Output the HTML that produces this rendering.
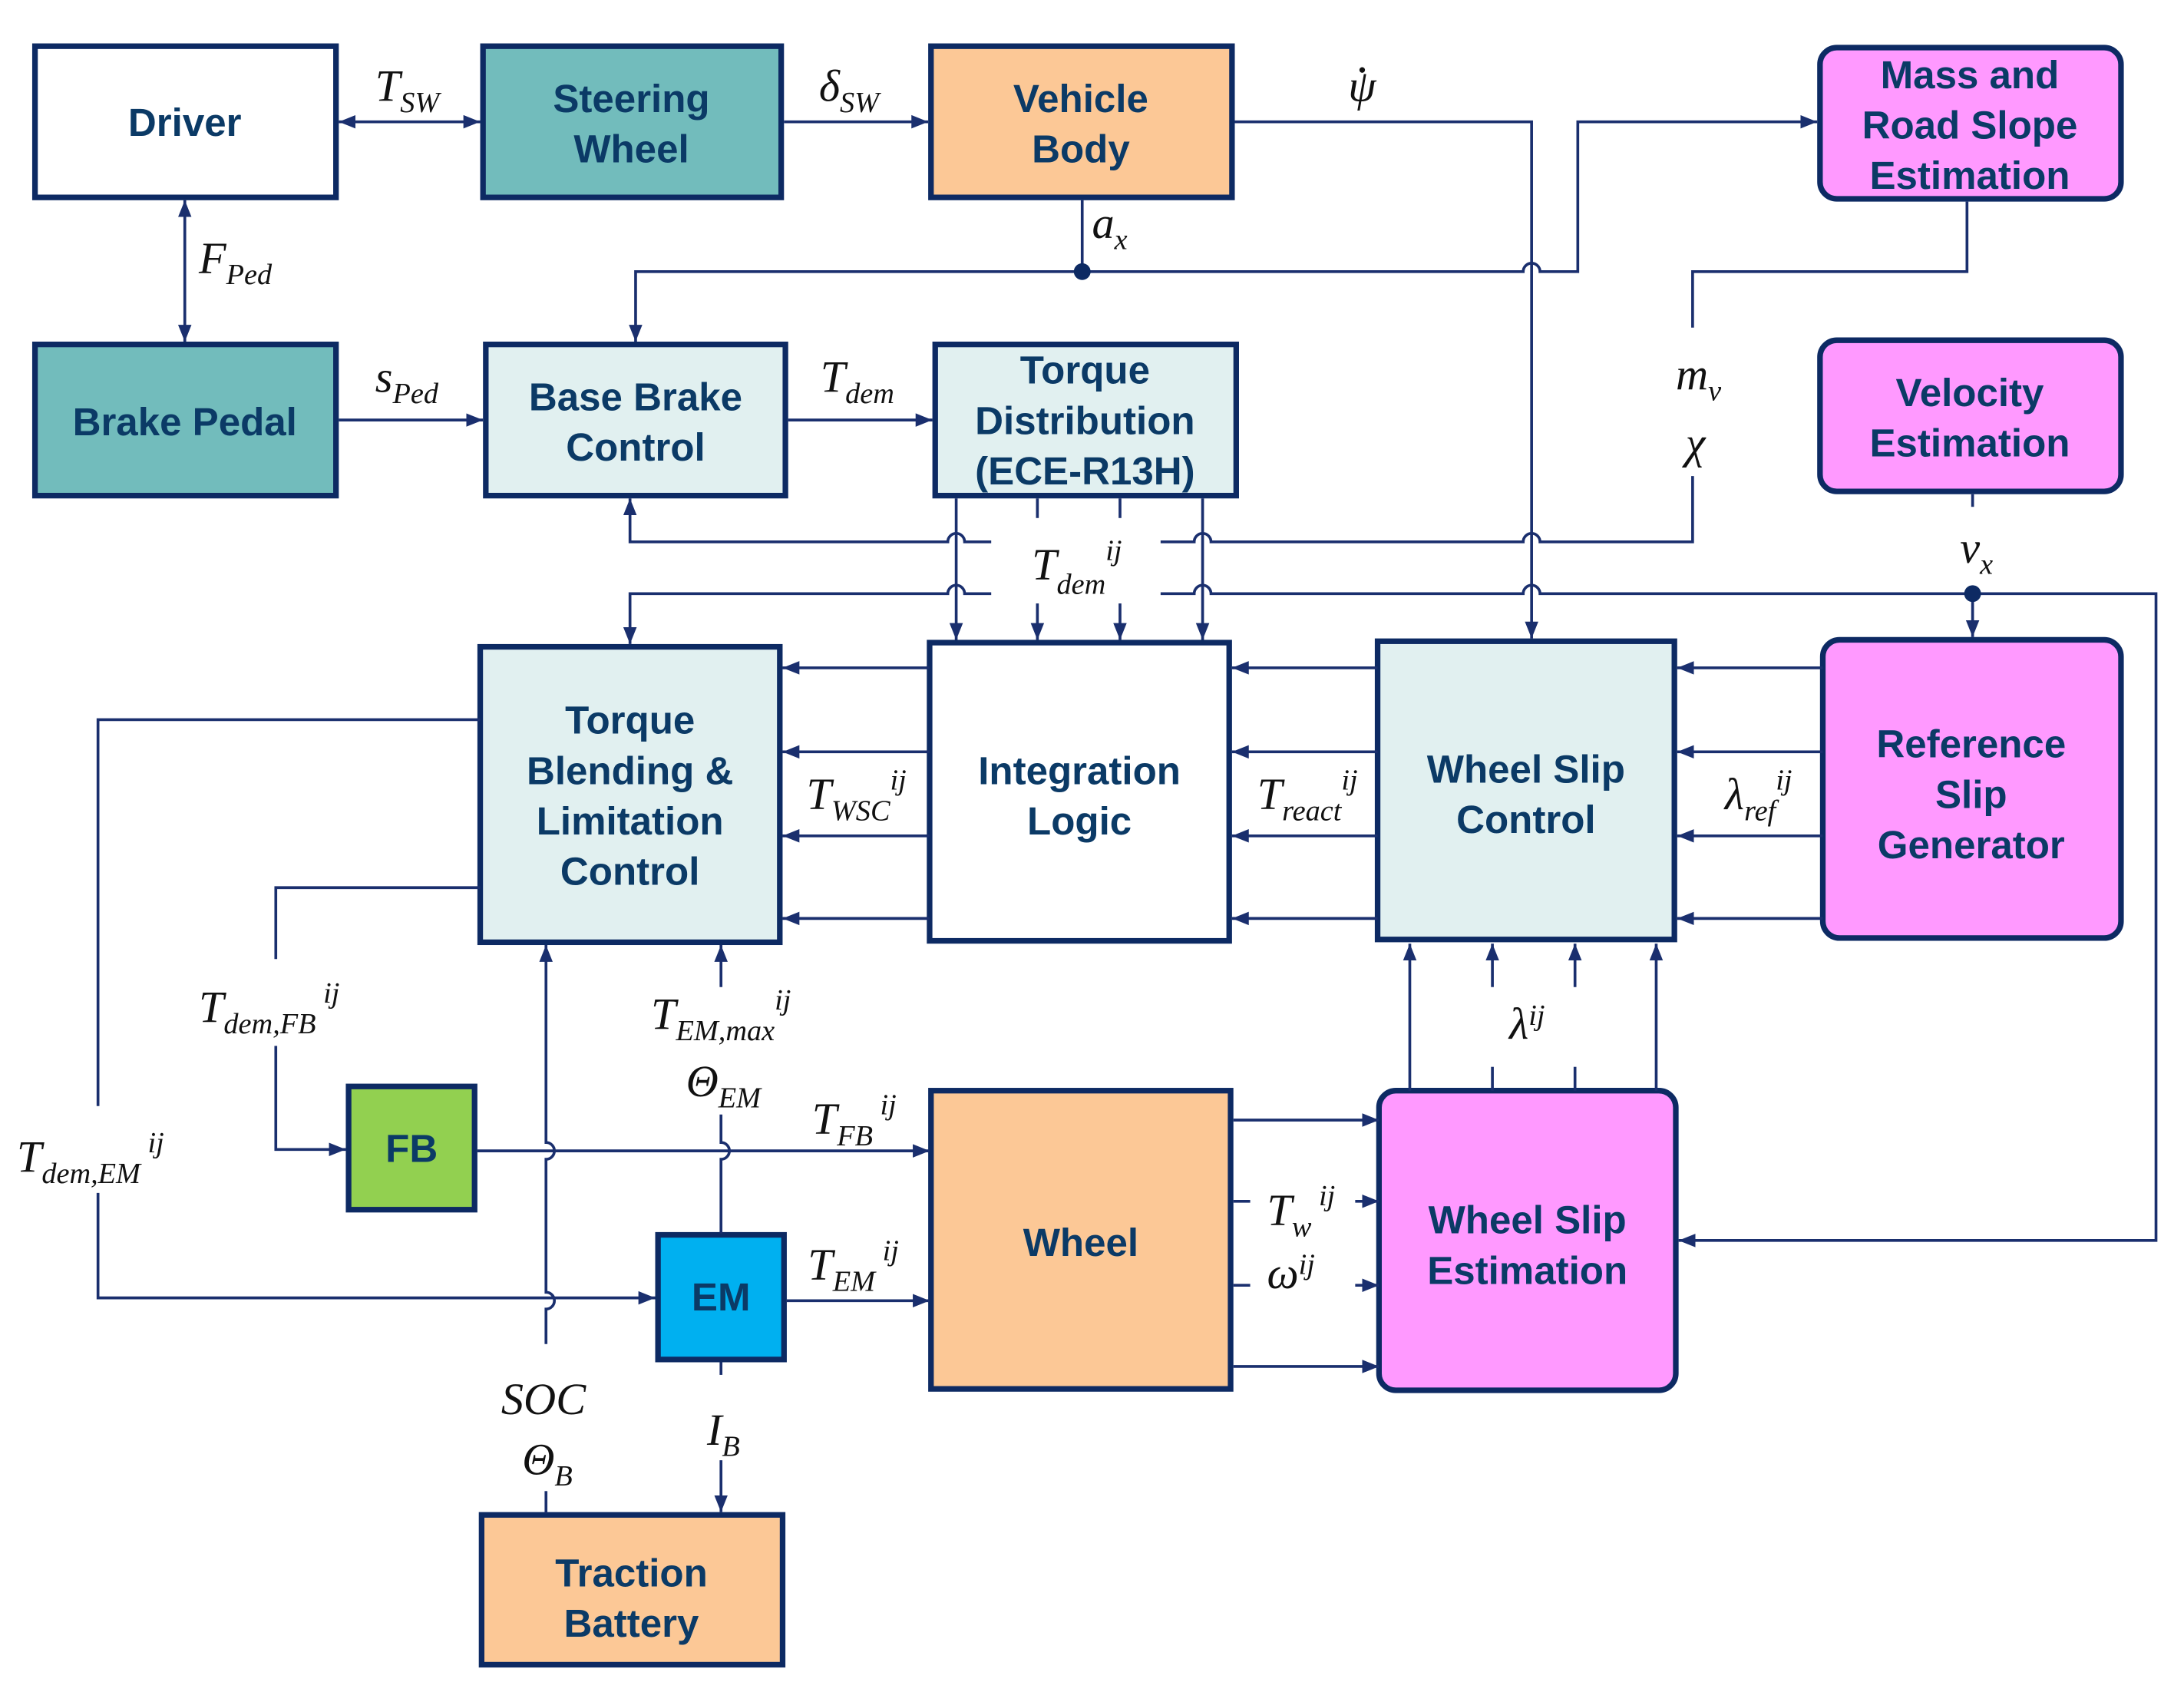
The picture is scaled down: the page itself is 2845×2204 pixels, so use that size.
<!DOCTYPE html>
<html><head><meta charset="utf-8"><style>
html,body{margin:0;padding:0;background:#fff}
svg{display:block}
.b{stroke:#0d2a63;stroke-width:4}
.bt{font-family:"Liberation Sans",sans-serif;font-weight:bold;font-size:28px;fill:#0b3a66;text-anchor:middle}
.l{fill:none;stroke:#1a2f6e;stroke-width:2}
.m{font-family:"Liberation Serif",serif;font-style:italic;font-size:32px;fill:#111}
.s{font-size:21px}
</style></head><body>
<svg width="2845" height="2204" viewBox="0 0 1560 1208.5" preserveAspectRatio="none" xmlns="http://www.w3.org/2000/svg">
<defs>
<marker id="a" viewBox="0 0 10 10" refX="10" refY="5" markerWidth="6" markerHeight="6" orient="auto-start-reverse"><path d="M0,1 L10,5 L0,9 z" fill="#1a2f6e"/></marker>
</defs>
<rect class="b" x="25" y="33" width="215" height="108" fill="#fff"/>
<rect class="b" x="345" y="33" width="213" height="108" fill="#72bcbc"/>
<rect class="b" x="665" y="33" width="215" height="108" fill="#fcc896"/>
<rect class="b" x="1300" y="34" width="215" height="108" rx="12" fill="#ff99ff"/>
<rect class="b" x="25" y="246" width="215" height="108" fill="#72bcbc"/>
<rect class="b" x="347" y="246" width="214" height="108" fill="#e1f0f0"/>
<rect class="b" x="668" y="246" width="215" height="108" fill="#e1f0f0"/>
<rect class="b" x="1300" y="243" width="215" height="108" rx="12" fill="#ff99ff"/>
<rect class="b" x="343" y="462" width="214" height="211" fill="#e1f0f0"/>
<rect class="b" x="664" y="459" width="214" height="213" fill="#fff"/>
<rect class="b" x="984" y="458" width="212" height="213" fill="#e1f0f0"/>
<rect class="b" x="1302" y="457" width="213" height="213" rx="12" fill="#ff99ff"/>
<rect class="b" x="249" y="776" width="90" height="88" fill="#92d050"/>
<rect class="b" x="470" y="882" width="90" height="89" fill="#00b0f0"/>
<rect class="b" x="665" y="779" width="214" height="213" fill="#fcc896"/>
<rect class="b" x="985" y="779" width="212" height="214" rx="12" fill="#ff99ff"/>
<rect class="b" x="344" y="1082" width="215" height="107" fill="#fcc896"/>
<text class="bt" x="132" y="97">Driver</text>
<text class="bt" x="451" y="80">Steering</text><text class="bt" x="451" y="116">Wheel</text>
<text class="bt" x="772" y="80">Vehicle</text><text class="bt" x="772" y="116">Body</text>
<text class="bt" x="1407" y="63">Mass and</text><text class="bt" x="1407" y="99">Road Slope</text><text class="bt" x="1407" y="135">Estimation</text>
<text class="bt" x="132" y="311">Brake Pedal</text>
<text class="bt" x="454" y="293">Base Brake</text><text class="bt" x="454" y="329">Control</text>
<text class="bt" x="775" y="274">Torque</text><text class="bt" x="775" y="310">Distribution</text><text class="bt" x="775" y="346">(ECE-R13H)</text>
<text class="bt" x="1407" y="290">Velocity</text><text class="bt" x="1407" y="326">Estimation</text>
<text class="bt" x="450" y="524">Torque</text><text class="bt" x="450" y="560">Blending &amp;</text><text class="bt" x="450" y="596">Limitation</text><text class="bt" x="450" y="632">Control</text>
<text class="bt" x="771" y="560">Integration</text><text class="bt" x="771" y="596">Logic</text>
<text class="bt" x="1090" y="559">Wheel Slip</text><text class="bt" x="1090" y="595">Control</text>
<text class="bt" x="1408" y="541">Reference</text><text class="bt" x="1408" y="577">Slip</text><text class="bt" x="1408" y="613">Generator</text>
<text class="bt" x="294" y="830">FB</text>
<text class="bt" x="515" y="936">EM</text>
<text class="bt" x="772" y="897">Wheel</text>
<text class="bt" x="1091" y="881">Wheel Slip</text><text class="bt" x="1091" y="917">Estimation</text>
<text class="bt" x="451" y="1133">Traction</text><text class="bt" x="451" y="1169">Battery</text>
<g class="l">
<path d="M242,87 H343" marker-start="url(#a)" marker-end="url(#a)"/>
<path d="M560,87 H663" marker-end="url(#a)"/>
<path d="M882,87 H1094 V456" marker-end="url(#a)"/>
<path d="M773,143 V194"/>
<path d="M773,194 H454 V244" marker-end="url(#a)"/>
<path d="M773,194 H1088 A6,6 0 0 1 1100,194 H1127 V87 H1298" marker-end="url(#a)"/>
<path d="M1405,144 V194 H1209 V234"/>
<path d="M1209,340 V387 H1100 A6,6 0 0 0 1088,387 H865 A6,6 0 0 0 853,387 H829"/>
<path d="M708,387 H689 A6,6 0 0 0 677,387 H450 V356" marker-end="url(#a)"/>
<path d="M1409,353 V362"/>
<path d="M1409,424 V455" marker-end="url(#a)"/>
<path d="M1409,424 H1540 V886 H1199" marker-end="url(#a)"/>
<path d="M1409,424 H1100 A6,6 0 0 0 1088,424 H865 A6,6 0 0 0 853,424 H829"/>
<path d="M708,424 H689 A6,6 0 0 0 677,424 H450 V460" marker-end="url(#a)"/>
<path d="M683,356 V457" marker-end="url(#a)"/>
<path d="M859,356 V457" marker-end="url(#a)"/>
<path d="M741,356 V370"/><path d="M741,431 V457" marker-end="url(#a)"/>
<path d="M800,356 V370"/><path d="M800,431 V457" marker-end="url(#a)"/>
<path d="M242,300 H345" marker-end="url(#a)"/>
<path d="M563,300 H666" marker-end="url(#a)"/>
<path d="M132,143 V244" marker-start="url(#a)" marker-end="url(#a)"/>
<path d="M664,477 H559" marker-end="url(#a)"/>
<path d="M664,537 H559" marker-end="url(#a)"/>
<path d="M664,597 H559" marker-end="url(#a)"/>
<path d="M664,656 H559" marker-end="url(#a)"/>
<path d="M984,477 H880" marker-end="url(#a)"/>
<path d="M984,537 H880" marker-end="url(#a)"/>
<path d="M984,597 H880" marker-end="url(#a)"/>
<path d="M984,656 H880" marker-end="url(#a)"/>
<path d="M1302,477 H1198" marker-end="url(#a)"/>
<path d="M1302,537 H1198" marker-end="url(#a)"/>
<path d="M1302,597 H1198" marker-end="url(#a)"/>
<path d="M1302,656 H1198" marker-end="url(#a)"/>
<path d="M1007,779 V674" marker-end="url(#a)"/>
<path d="M1183,779 V674" marker-end="url(#a)"/>
<path d="M1066,779 V762"/><path d="M1066,705 V674" marker-end="url(#a)"/>
<path d="M1125,779 V762"/><path d="M1125,705 V674" marker-end="url(#a)"/>
<path d="M881,800 H985" marker-end="url(#a)"/>
<path d="M881,976 H985" marker-end="url(#a)"/>
<path d="M881,858 H893"/><path d="M968,858 H985" marker-end="url(#a)"/>
<path d="M881,918 H893"/><path d="M968,918 H985" marker-end="url(#a)"/>
<path d="M341,822 H664" marker-end="url(#a)"/>
<path d="M562,929 H664" marker-end="url(#a)"/>
<path d="M343,514 H70 V790"/>
<path d="M70,852 V927 H468" marker-end="url(#a)"/>
<path d="M343,634 H197 V685"/>
<path d="M197,747 V821 H247" marker-end="url(#a)"/>
<path d="M390,1081 V1065"/>
<path d="M390,960 V935 A6,6 0 0 0 390,923 V828 A6,6 0 0 0 390,816 V675" marker-end="url(#a)"/>
<path d="M515,881 V828 A6,6 0 0 0 515,816 V796"/>
<path d="M515,705 V675" marker-end="url(#a)"/>
<path d="M515,973 V982"/>
<path d="M515,1043 V1080" marker-end="url(#a)"/>
</g>
<circle cx="773" cy="194" r="6" fill="#0d2a63"/>
<circle cx="1409" cy="424" r="6" fill="#0d2a63"/>
<circle cx="973" cy="50" r="2" fill="#111"/>
<g class="m">
<text x="268" y="72">T<tspan class="s" dy="8">SW</tspan></text>
<text x="585" y="72">δ<tspan class="s" dy="8">SW</tspan></text>
<text x="963" y="72">ψ</text>
<text x="780" y="170">a<tspan class="s" dy="8">x</tspan></text>
<text x="142" y="195">F<tspan class="s" dy="8">Ped</tspan></text>
<text x="268" y="280">s<tspan class="s" dy="8">Ped</tspan></text>
<text x="586" y="280">T<tspan class="s" dy="8">dem</tspan></text>
<text x="1197" y="278">m<tspan class="s" dy="8">v</tspan></text>
<text x="1204" y="327">χ</text>
<text x="737" y="414">T<tspan class="s" dy="10">dem</tspan><tspan class="s" dy="-24">ij</tspan></text>
<text x="1400" y="402">v<tspan class="s" dy="8">x</tspan></text>
<text x="576" y="578">T<tspan class="s" dy="8">WSC</tspan><tspan class="s" dy="-22">ij</tspan></text>
<text x="898" y="578">T<tspan class="s" dy="8">react</tspan><tspan class="s" dy="-22">ij</tspan></text>
<text x="1232" y="578">λ<tspan class="s" dy="8">ref</tspan><tspan class="s" dy="-22">ij</tspan></text>
<text x="142" y="730">T<tspan class="s" dy="8">dem,FB</tspan><tspan class="s" dy="-22"> ij</tspan></text>
<text x="465" y="735">T<tspan class="s" dy="8">EM,max</tspan><tspan class="s" dy="-22">ij</tspan></text>
<text x="490" y="783">Θ<tspan class="s" dy="8">EM</tspan></text>
<text x="580" y="810">T<tspan class="s" dy="8">FB</tspan><tspan class="s" dy="-22"> ij</tspan></text>
<text x="12" y="837">T<tspan class="s" dy="8">dem,EM</tspan><tspan class="s" dy="-22"> ij</tspan></text>
<text x="577" y="914">T<tspan class="s" dy="8">EM</tspan><tspan class="s" dy="-22"> ij</tspan></text>
<text x="905" y="875">T<tspan class="s" dy="8">w</tspan><tspan class="s" dy="-22"> ij</tspan></text>
<text x="905" y="920">ω<tspan class="s" dy="-10">ij</tspan></text>
<text x="1078" y="742">λ<tspan class="s" dy="-10">ij</tspan></text>
<text x="358" y="1010">SOC</text>
<text x="373" y="1053">Θ<tspan class="s" dy="8">B</tspan></text>
<text x="505" y="1032">I<tspan class="s" dy="8">B</tspan></text>
</g>
</svg>
</body></html>
